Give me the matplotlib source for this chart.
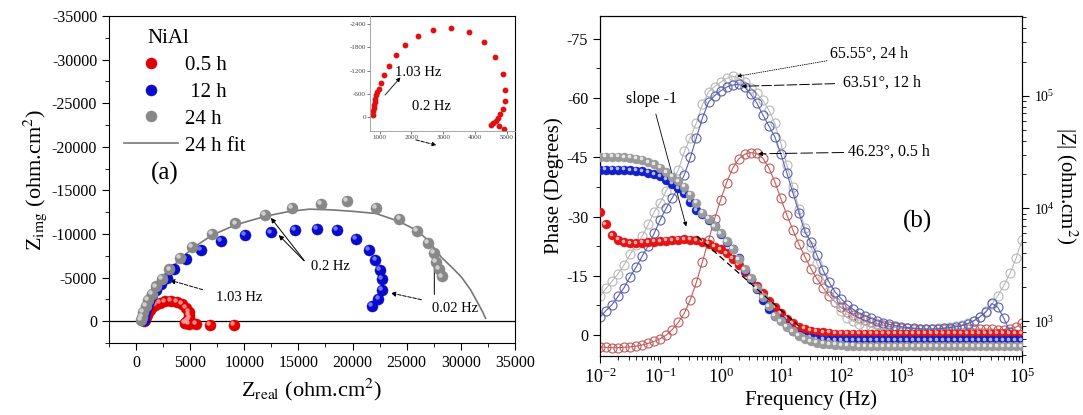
import numpy as np
import matplotlib.pyplot as plt
from matplotlib.transforms import offset_copy
from matplotlib.ticker import MultipleLocator, LogLocator, NullFormatter

plt.rcParams['font.family'] = ['Liberation Serif', 'DejaVu Serif']
plt.rcParams['mathtext.fontset'] = 'stix'
plt.rcParams['axes.unicode_minus'] = False

# ---- Nyquist data (ohm.cm2) ----
red_zr = [780, 801, 812, 832, 853, 874, 895, 916, 969, 1031, 1126, 1293, 1503, 1796, 2194,
          2686, 3230, 3796, 4277, 4634, 4864, 4927, 4937, 4864, 4791, 4728, 4654, 4560, 4497,
          4749, 4894, 5540, 6833, 9049]
red_zi = [-58, -141, -224, -306, -389, -472, -555, -637, -720, -886, -1076, -1325, -1589, -1863,
          -2103, -2260, -2301, -2202, -1937, -1548, -1109, -704, -406, -207, -75, 25, 108, 166,
          199, 232, 300, 350, 380, 420]

blue_zr = [700, 760, 860, 1000, 1200, 1500, 1850, 2300, 2850, 3464, 4638, 6000, 7850, 10046,
           12490, 14660, 16700, 18560, 20315, 21550, 22110, 22540, 22700, 22700, 22390, 21770]
blue_zi = [-100, -500, -1000, -1600, -2300, -3000, -3600, -4300, -5000, -6010, -7150, -8210,
           -9160, -9920, -10180, -10490, -10570, -10420, -9430, -8175, -7035, -5895, -4825,
           -3610, -2590, -1745]

gray_zr = [440, 530, 680, 900, 1140, 1455, 1855, 2380, 3090, 4080, 5170, 7020, 9180, 11900,
           14440, 17070, 19450, 22170, 24330, 25940, 26960, 27520, 27730, 27950, 28290]
gray_zi = [-110, -490, -1060, -1710, -2390, -3160, -3990, -4870, -5930, -7260, -8550, -10000,
           -11210, -12170, -12960, -13490, -13760, -12960, -11710, -10380, -8930, -7790, -6760,
           -6010, -5130]

fit_zr = [430, 500, 650, 880, 1150, 1480, 1900, 2450, 3150, 4150, 5250, 7000, 9200, 12000,
          14000, 16000, 18000, 20000, 22170, 24300, 25970, 27000, 28200, 29200, 30060, 30900,
          31600, 32000, 32280]
fit_zi = [0, -500, -1100, -1800, -2500, -3250, -4050, -4950, -5950, -7200, -8400, -9850,
          -11050, -12050, -12550, -12850, -12770, -12600, -12350, -11440, -10380, -9240, -7330,
          -6150, -5050, -3600, -2020, -1100, -340]

# ---- Bode data, 10 points per decade from 1e-2 to 1e5 Hz ----
freq = np.logspace(-2, 5, 71)

phase_05h = [3.0, 3.1, 3.2, 3.2, 3.1, 3.0, 2.8, 2.5, 2.1, 1.6,
             0.9, 0.0, -1.4, -3.2, -5.6, -9.0, -13.4, -18.6, -24.0, -29.4,
             -34.2, -38.6, -42.2, -44.6, -45.8, -46.2, -46.0, -44.8, -42.4, -38.8,
             -34.6, -30.4, -26.6, -23.0, -19.8, -16.8, -14.2, -12.0, -10.0, -8.4,
             -7.0, -5.9, -5.0, -4.3, -3.7, -3.2, -2.8, -2.5, -2.2, -2.0,
             -1.8, -1.7, -1.6, -1.5, -1.5, -1.5, -1.5, -1.5, -1.5, -1.5,
             -1.5, -1.5, -1.5, -1.5, -1.5, -1.5, -1.4, -1.4, -1.6, -2.0, -3.0]
phase_12h = [-4.5, -6.2, -7.7, -9.8, -12.0, -14.8, -17.2, -20.0, -22.6, -25.8,
             -29.2, -32.2, -34.8, -37.4, -40.6, -45.0, -50.0, -55.0, -59.0, -60.6,
             -61.8, -62.8, -63.3, -63.5, -62.8, -61.0, -58.8, -55.8, -53.0, -50.2,
             -45.8, -41.0, -36.0, -31.0, -26.0, -23.6, -20.2, -16.4, -13.4, -10.9,
             -9.2, -7.6, -6.5, -5.6, -4.9, -4.2, -3.6, -3.1, -2.7, -2.4,
             -2.1, -1.9, -1.7, -1.6, -1.5, -1.5, -1.6, -1.7, -1.9, -2.1,
             -2.4, -2.9, -3.6, -4.6, -5.8, -8.0, -7.0, -4.2, -0.8, 0.5, 1.2]
phase_24h = [-9.8, -11.8, -13.6, -15.5, -17.8, -20.4, -22.9, -25.0, -28.0, -31.2,
             -33.5, -36.6, -39.0, -41.8, -46.5, -50.0, -53.8, -58.4, -61.6, -62.9,
             -64.0, -65.0, -65.55, -65.0, -64.2, -62.6, -61.2, -59.5, -57.0, -53.6,
             -48.5, -43.0, -37.5, -32.0, -27.0, -22.4, -18.2, -14.4, -11.2, -8.4,
             -6.0, -4.4, -3.5, -2.9, -2.4, -2.0, -1.6, -1.3, -1.1, -1.0,
             -1.0, -1.0, -1.1, -1.2, -1.3, -1.5, -1.7, -1.9, -2.1, -2.3,
             -2.6, -3.0, -3.6, -4.6, -6.0, -7.8, -10.0, -12.6, -15.6, -19.4, -24.0]

modz_05h = [9230, 7240, 5750, 5250, 5010, 4900, 4900, 4950, 5010, 5050,
            5090, 5150, 5200, 5250, 5300, 5270, 5220, 5080, 4840, 4570,
            4320, 3980, 3590, 3160, 2750, 2370, 2040, 1760, 1510, 1320,
            1175, 1050, 955, 890, 850, 820, 805, 795, 785, 775,
            775, 770, 770, 770, 770, 770, 770, 770, 770, 770,
            770, 770, 770, 770, 770, 770, 770, 770, 770, 770,
            770, 770, 770, 770, 770, 770, 770, 770, 770, 770, 770]
modz_12h = [22130, 22130, 22130, 22080, 21980, 21830, 21630, 21280, 20700, 20040,
            19320, 17860, 16600, 15140, 13650, 11480, 9660, 8910, 7940, 6920,
            5890, 5010, 4370, 3630, 2820, 2340, 1910, 1550, 1290, 1120,
            1020, 910, 810, 760, 725, 710, 690, 685, 675, 675,
            675, 675, 675, 675, 675, 675, 675, 675, 675, 675,
            675, 675, 675, 675, 675, 675, 675, 675, 675, 675,
            675, 675, 675, 675, 675, 675, 675, 675, 675, 675, 675]
modz_24h = [28840, 28840, 28840, 28840, 28510, 28180, 27540, 26920, 25700, 24550,
            22910, 20890, 19050, 17380, 15490, 13180, 11220, 9120, 8130, 6920,
            6030, 5130, 4370, 3550, 2880, 2400, 1950, 1620, 1350, 1120,
            1000, 890, 810, 740, 690, 660, 645, 630, 625, 615,
            610, 605, 605, 600, 600, 600, 600, 600, 600, 600,
            600, 600, 600, 600, 600, 600, 600, 600, 600, 600,
            600, 600, 600, 600, 600, 600, 600, 600, 600, 600, 600]


def spheres(ax, x, y, face, shine, ms, z=3, label=None):
    # shaded balls: solid disc plus a small light spot up-left
    base, = ax.plot(x, y, 'o', ms=ms, mfc=face, mec=face, mew=0.3, ls='none',
                    zorder=z, label=label)
    tr = offset_copy(ax.transData, fig=ax.figure, x=-0.17 * ms, y=0.17 * ms, units='points')
    ax.plot(x, y, 'o', ms=0.4 * ms, mfc=shine, mec='none', ls='none', transform=tr,
            zorder=z + 0.01, alpha=0.9)
    return base


fig = plt.figure(figsize=(10.83, 4.15), dpi=100)

# ================= (a) Nyquist =================
ax_a = fig.add_axes([0.1006, 0.1735, 0.3749, 0.788])
ax_a.axhline(0, color='black', lw=0.9, zorder=1)
fit_line, = ax_a.plot(fit_zr, fit_zi, color='#777777', lw=1.2, zorder=2, label='24 h fit')
h_red = spheres(ax_a, red_zr, red_zi, '#e00000', '#ff9a9a', 8, z=3, label='0.5 h')
h_blue = spheres(ax_a, blue_zr, blue_zi, '#0a0acc', '#7a86ff', 8, z=4, label=' 12 h')
h_gray = spheres(ax_a, gray_zr, gray_zi, '#888888', '#d8d8d8', 8, z=5, label='24 h')

ax_a.set_xlim(-2500, 35000)
ax_a.set_ylim(2500, -35000)
ax_a.set_xticks(np.arange(0, 35001, 5000))
ax_a.set_yticks(np.arange(-35000, 1, 5000))
ax_a.xaxis.set_minor_locator(MultipleLocator(2500))
ax_a.yaxis.set_minor_locator(MultipleLocator(2500))
ax_a.tick_params(which='both', direction='out', labelsize=11.5, top=False, right=False)
ax_a.tick_params(which='major', length=5)
ax_a.tick_params(which='minor', length=3)
ax_a.set_xlabel(r'Z$_{\rm real}$ (ohm.cm$^{2}$)', fontsize=16, labelpad=4)
ax_a.set_ylabel(r'Z$_{\rm img}$ (ohm.cm$^{2}$)', fontsize=16, labelpad=2)

ax_a.text(1020, -32400, 'NiAl', fontsize=15, va='center')
ax_a.legend(handles=[h_red, h_blue, h_gray, fit_line], loc='upper left',
            bbox_to_anchor=(0.017, 0.905), frameon=False, fontsize=15,
            handlelength=2.6, handletextpad=0.3, labelspacing=0.35, borderaxespad=0)
ax_a.text(2690, -16990, '(a)', fontsize=18, ha='center', va='center')

ax_a.annotate('', xy=(12300, -12100), xytext=(15700, -6700),
              arrowprops=dict(arrowstyle='-|>', lw=0.7, color='black', mutation_scale=7))
ax_a.annotate('', xy=(13000, -10100), xytext=(15700, -6700),
              arrowprops=dict(arrowstyle='-|>', lw=0.7, color='black', mutation_scale=7))
ax_a.text(18000, -6300, '0.2 Hz', fontsize=10.5, ha='center', va='center')
ax_a.annotate('', xy=(2880, -4790), xytext=(6400, -3530),
              arrowprops=dict(arrowstyle='-|>', lw=0.7, color='black', ls='--',
                              mutation_scale=7))
ax_a.text(9500, -2700, '1.03 Hz', fontsize=10.5, ha='center', va='center')
ax_a.annotate('', xy=(23280, -3300), xytext=(26600, -2400),
              arrowprops=dict(arrowstyle='-|>', lw=0.7, color='black', ls='--',
                              mutation_scale=7))
ax_a.annotate('', xy=(27550, -7300), xytext=(27550, -2750),
              arrowprops=dict(arrowstyle='-|>', lw=0.7, color='black', mutation_scale=7))
ax_a.text(29500, -1450, '0.02 Hz', fontsize=10.5, ha='center', va='center')
ax_a.annotate('', xy=(28000, -20100), xytext=(25600, -20870),
              arrowprops=dict(arrowstyle='-|>', lw=0.7, color='black', ls='--',
                              mutation_scale=6))

# inset: 0.5 h arc
ax_in = fig.add_axes([0.3416, 0.6843, 0.1339, 0.2771])
ax_in.patch.set_visible(False)
ax_in.plot(red_zr, red_zi, 'o', ms=3.2, color='#e01010', mec='#e01010', ls='none')
ax_in.set_xlim(700, 5250)
ax_in.set_ylim(365, -2610)
ax_in.set_xticks([1000, 2000, 3000, 4000, 5000])
ax_in.set_yticks([-2400, -1800, -1200, -600, 0])
ax_in.tick_params(labelsize=5, length=2, width=0.5, colors='#444444', pad=1)
for side in ['top', 'right']:
    ax_in.spines[side].set_visible(False)
for side in ['left', 'bottom']:
    ax_in.spines[side].set_color('#999999')
    ax_in.spines[side].set_linewidth(0.6)
ax_in.text(2200, -1150, '1.03 Hz', fontsize=10.5, ha='center', va='center')
ax_in.text(2630, -260, '0.2 Hz', fontsize=10.5, ha='center', va='center')
ax_in.annotate('', xy=(1713, -1075), xytext=(1116, -512),
               arrowprops=dict(arrowstyle='-|>', lw=0.6, color='black', mutation_scale=6))

# ================= (b) Bode =================
ax_b = fig.add_axes([0.554, 0.1422, 0.3897, 0.8193])
ax_b.set_xscale('log')
ax_b.plot(freq, phase_05h, '-o', color='#c25a5a', mfc='none', mec='#c25a5a', ms=6.5,
          lw=0.8, mew=0.8)
ax_b.plot(freq, phase_24h, '-o', color='#b8b8b8', mfc='none', mec='#b8b8b8', ms=6.5,
          lw=0.8, mew=0.8)
ax_b.plot(freq, phase_12h, '-o', color='#5a5fb0', mfc='none', mec='#5a5fb0', ms=6.5,
          lw=0.8, mew=0.8)
ax_b.set_xlim(1e-2, 1e5)
ax_b.set_ylim(5.3, -80.8)
ax_b.set_yticks([-75, -60, -45, -30, -15, 0])
ax_b.yaxis.set_minor_locator(MultipleLocator(7.5))
ax_b.xaxis.set_major_locator(LogLocator(base=10, numticks=12))
ax_b.xaxis.set_minor_locator(LogLocator(base=10, subs=np.arange(2, 10), numticks=12))
ax_b.xaxis.set_minor_formatter(NullFormatter())
ax_b.tick_params(which='both', direction='out', top=False, right=False)
ax_b.tick_params(axis='y', labelsize=11.5)
ax_b.tick_params(axis='x', labelsize=13)
ax_b.tick_params(which='major', length=5)
ax_b.tick_params(which='minor', length=3)
ax_b.set_xlabel('Frequency (Hz)', fontsize=15, labelpad=2)
ax_b.set_ylabel('Phase (Degrees)', fontsize=15, labelpad=2)

ax_z = ax_b.twinx()
ax_z.set_yscale('log')
spheres(ax_z, freq, modz_05h, '#e41414', '#ffc0c0', 6.5, z=3)
spheres(ax_z, freq, modz_12h, '#1420c8', '#c8ccff', 6.5, z=4)
spheres(ax_z, freq, modz_24h, '#9a9a9a', '#f0f0f0', 6.5, z=5)
ax_z.plot([10 ** -0.39, 10 ** 1.32], [5650, 885], color='black', ls=(0, (5, 3)), lw=0.9,
          zorder=6)
ax_z.set_ylim(490, 5.1e5)
ax_z.yaxis.set_major_locator(LogLocator(base=10, numticks=10))
ax_z.yaxis.set_minor_locator(LogLocator(base=10, subs=np.arange(2, 10), numticks=10))
ax_z.yaxis.set_minor_formatter(NullFormatter())
ax_z.tick_params(which='both', direction='out', labelsize=10)
ax_z.tick_params(which='major', length=5)
ax_z.tick_params(which='minor', length=3)
ax_z.set_ylabel(r'|Z| (ohm.cm$^{2}$)', fontsize=15, rotation=270, labelpad=18)

# peak labels and slope marker
ax_b.annotate('65.55°, 24 h', xy=(10 ** 0.27, -65.5), xytext=(10 ** 1.81, -71.3),
              fontsize=11.5, ha='left', va='center',
              arrowprops=dict(arrowstyle='-|>', lw=0.6, color='black', ls=':',
                              mutation_scale=6, shrinkA=0, shrinkB=0))
ax_b.annotate('63.51°, 12 h', xy=(10 ** 0.35, -63.0), xytext=(10 ** 2.03, -64.0),
              fontsize=11.5, ha='left', va='center',
              arrowprops=dict(arrowstyle='-|>', lw=0.7, color='black', ls=(0, (10, 3)),
                              mutation_scale=6, shrinkA=4, shrinkB=0))
ax_b.annotate('46.23°, 0.5 h', xy=(10 ** 0.62, -45.9), xytext=(10 ** 2.11, -46.4),
              fontsize=11.5, ha='left', va='center',
              arrowprops=dict(arrowstyle='-|>', lw=0.7, color='black', ls=(0, (12, 4)),
                              mutation_scale=6, shrinkA=1, shrinkB=0))
ax_b.annotate('slope -1', xy=(10 ** -0.57, -27.5), xytext=(10 ** -1.14, -59.7),
              fontsize=11.5, ha='center', va='center',
              arrowprops=dict(arrowstyle='-|>', lw=0.6, color='black', mutation_scale=6,
                              shrinkA=3, shrinkB=0))
ax_b.text(10 ** 3.27, -28.7, '(b)', fontsize=18, ha='center', va='center')

fig.savefig('out.png', dpi=100)
